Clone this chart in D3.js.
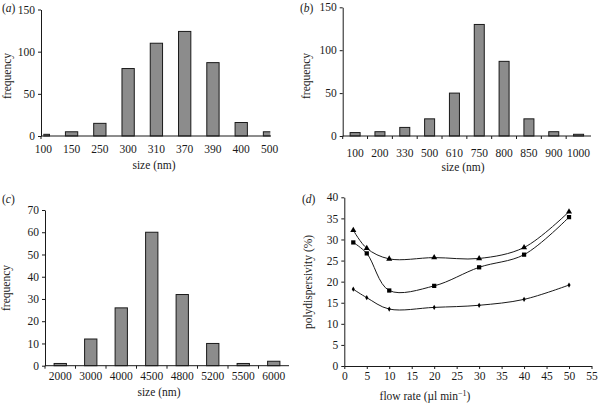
<!DOCTYPE html>
<html><head><meta charset="utf-8">
<script src="https://cdn.jsdelivr.net/npm/d3@7"></script>
<style>
html,body{margin:0;padding:0;background:#fff;}
svg{display:block;}
text{font-family:"Liberation Serif","Times New Roman",serif;fill:#1a1a1a;}
</style></head>
<body>
<svg id="chart" width="598" height="403"></svg>
<script>
// ---- data ----
const catsA = ["100","150","250","300","310","370","390","400","500"];
const freqA = [2, 5, 15, 80, 110, 124, 87, 16, 5];
const ticksA = [0, 50, 100, 150];

const catsB = ["100","200","330","500","610","750","800","850","900","1000"];
const freqB = [4, 5, 10, 20, 50, 130, 87, 20, 5, 2];
const ticksB = [0, 50, 100, 150];

const catsC = ["2000","3000","4000","4500","4800","5200","5500","6000"];
const freqC = [1, 12, 26, 60, 32, 10, 1, 2];
const ticksC = [0, 10, 20, 30, 40, 50, 60, 70];

const flowRate = [2, 5, 10, 20, 30, 40, 50];
const polyTriangle = [32.2, 27.9, 25.4, 25.7, 25.5, 28.1, 36.6];
const polySquare = [29.3, 26.7, 17.9, 19.0, 23.4, 26.4, 35.3];
const polyDiamond = [18.2, 16.2, 13.5, 13.9, 14.4, 15.8, 19.2];
const ticksDx = [0,5,10,15,20,25,30,35,40,45,50,55];
const ticksDy = [0,5,10,15,20,25,30,35,40];

const svg = d3.select("#chart");
const INK = "#1a1a1a";
const FILL = "#8c8c8c";
const FS = 11.5;

function yAxis(g, y, ticks, x0) {
  const ax = g.append("g").attr("transform", `translate(${x0},0)`)
    .call(d3.axisLeft(y).tickValues(ticks).tickSize(3).tickSizeOuter(0).tickPadding(3));
  ax.select(".domain").attr("stroke", INK);
  ax.selectAll(".tick line").attr("stroke", INK);
  ax.selectAll(".tick text").attr("font-size", FS).attr("font-family", '"Liberation Serif",serif').attr("fill", INK);
  return ax;
}
function label(g, txt, x, y, rot) {
  const t = g.append("text").attr("font-size", FS).attr("text-anchor", "middle");
  if (rot) t.attr("transform", `translate(${x},${y}) rotate(-90)`);
  else t.attr("x", x).attr("y", y);
  t.text(txt);
  return t;
}
function panelLetter(g, letter, x, y) {
  const t = g.append("text").attr("x", x).attr("y", y).attr("font-size", FS);
  t.append("tspan").text("(");
  t.append("tspan").attr("font-style", "italic").text(letter);
  t.append("tspan").text(")");
}

// ---- panel (a): categories at axis ends (points) ----
(function(){
  const g = svg.append("g");
  const x0 = 41, x1 = 271, y0 = 136, yTop = 9.5;
  const x = d3.scalePoint().domain(catsA).range([43.3, 269.5]);
  const y = d3.scaleLinear().domain([0, 150]).range([y0, yTop]);
  const bw = 12.3;
  g.append("clipPath").attr("id", "clipA").append("rect")
    .attr("x", 43.3).attr("y", 0).attr("width", 270.3 - 43.3).attr("height", 200);
  g.append("g").attr("clip-path", "url(#clipA)").selectAll("rect").data(catsA).join("rect")
    .attr("x", d => x(d) - bw / 2).attr("width", bw)
    .attr("y", (d, i) => y(freqA[i])).attr("height", (d, i) => y0 - y(freqA[i]))
    .attr("fill", FILL).attr("stroke", INK).attr("stroke-width", 1);
  yAxis(g, y, ticksA, x0);
  g.append("line").attr("x1", x0).attr("x2", x1).attr("y1", y0).attr("y2", y0).attr("stroke", INK);
  g.append("line").attr("x1", x0).attr("x2", x0).attr("y1", y0).attr("y2", y0 + 3).attr("stroke", INK);
  g.selectAll(".xl").data(catsA).join("text").attr("class", "xl")
    .attr("x", d => x(d)).attr("y", 153).attr("text-anchor", "middle").attr("font-size", FS).text(d => d);
  label(g, "size (nm)", 154, 169);
  label(g, "frequency", 11, 76, true);
  panelLetter(g, "a", 2, 12);
})();

// ---- panel (b): band categories ----
(function(){
  const g = svg.append("g");
  const x0 = 342.7, x1 = 591, y0 = 136, yTop = 7.3;
  const x = d3.scaleBand().domain(catsB).range([x0, x1]);
  const y = d3.scaleLinear().domain([0, 150]).range([y0, yTop]);
  const bw = 10;
  g.selectAll("rect").data(catsB).join("rect")
    .attr("x", d => x(d) + x.bandwidth() / 2 - bw / 2).attr("width", bw)
    .attr("y", (d, i) => y(freqB[i])).attr("height", (d, i) => y0 - y(freqB[i]))
    .attr("fill", FILL).attr("stroke", INK).attr("stroke-width", 1);
  yAxis(g, y, ticksB, x0);
  g.append("line").attr("x1", x0).attr("x2", x1).attr("y1", y0).attr("y2", y0).attr("stroke", INK);
  g.selectAll(".xt").data(catsB).join("line").attr("class", "xt")
    .attr("x1", d => x(d)).attr("x2", d => x(d)).attr("y1", y0).attr("y2", y0 + 3).attr("stroke", INK);
  g.selectAll(".xl").data(catsB).join("text").attr("class", "xl")
    .attr("x", d => x(d) + x.bandwidth() / 2).attr("y", 157).attr("text-anchor", "middle").attr("font-size", FS).text(d => d);
  label(g, "size (nm)", 463, 171);
  label(g, "frequency", 310, 76, true);
  panelLetter(g, "b", 300, 12);
})();

// ---- panel (c) ----
(function(){
  const g = svg.append("g");
  const x0 = 45, x1 = 289, y0 = 365.7, yTop = 210;
  const x = d3.scaleBand().domain(catsC).range([x0, x1]);
  const y = d3.scaleLinear().domain([0, 70]).range([y0, yTop]);
  const bw = 12.3;
  g.selectAll("rect").data(catsC).join("rect")
    .attr("x", d => x(d) + x.bandwidth() / 2 - bw / 2).attr("width", bw)
    .attr("y", (d, i) => y(freqC[i])).attr("height", (d, i) => y0 - y(freqC[i]))
    .attr("fill", FILL).attr("stroke", INK).attr("stroke-width", 1);
  yAxis(g, y, ticksC, x0);
  g.append("line").attr("x1", x0).attr("x2", x1).attr("y1", y0).attr("y2", y0).attr("stroke", INK);
  g.selectAll(".xt").data(catsC).join("line").attr("class", "xt")
    .attr("x1", d => x(d)).attr("x2", d => x(d)).attr("y1", y0).attr("y2", y0 + 3).attr("stroke", INK);
  g.selectAll(".xl").data(catsC).join("text").attr("class", "xl")
    .attr("x", d => x(d) + x.bandwidth() / 2).attr("y", 380).attr("text-anchor", "middle").attr("font-size", FS).text(d => d);
  label(g, "size (nm)", 159, 396);
  label(g, "frequency", 10, 288, true);
  panelLetter(g, "c", 2, 203);
})();

// ---- panel (d) ----
(function(){
  const g = svg.append("g");
  const x = d3.scaleLinear().domain([0, 55]).range([344.3, 591.5]);
  const y = d3.scaleLinear().domain([0, 40]).range([366, 197.3]);
  const ax = g.append("g").attr("transform", `translate(0,${y(0)})`)
    .call(d3.axisBottom(x).tickValues(ticksDx).tickSize(3).tickSizeOuter(0).tickPadding(3));
  ax.select(".domain").attr("stroke", INK);
  ax.selectAll(".tick line").attr("stroke", INK);
  ax.selectAll(".tick text").attr("font-size", FS).attr("font-family", '"Liberation Serif",serif').attr("fill", INK);
  yAxis(g, y, ticksDy, x(0));
  const line = d3.line().x((d, i) => x(flowRate[i])).y(d => y(d)).curve(d3.curveCatmullRom.alpha(0.5));
  const series = [
    {vals: polyTriangle, sym: d3.symbolTriangle, size: 16},
    {vals: polySquare, sym: d3.symbolSquare, size: 18},
    {vals: polyDiamond, sym: d3.symbolDiamond, size: 8}
  ];
  series.forEach(s => {
    g.append("path").attr("d", line(s.vals)).attr("fill", "none").attr("stroke", INK).attr("stroke-width", 1);
    g.selectAll(null).data(s.vals).join("path")
      .attr("transform", (d, i) => `translate(${x(flowRate[i])},${y(d)})`)
      .attr("d", d3.symbol().type(s.sym).size(s.size)).attr("fill", "#000");
  });
  const t = g.append("text").attr("x", 425).attr("y", 400).attr("text-anchor", "middle").attr("font-size", FS);
  t.append("tspan").text("flow rate (µl min");
  t.append("tspan").attr("font-size", 8).attr("dy", -4).text("−1");
  t.append("tspan").attr("dy", 4).text(")");
  label(g, "polydispersivity (%)", 312, 282, true);
  panelLetter(g, "d", 302, 203);
})();
</script>
</body></html>
